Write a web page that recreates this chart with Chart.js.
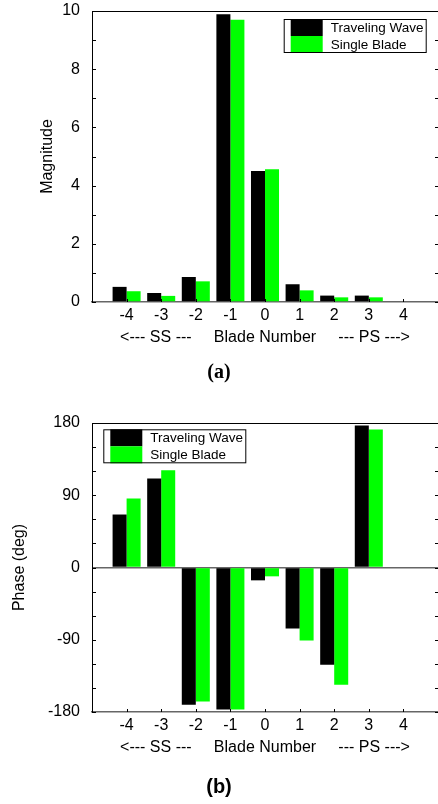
<!DOCTYPE html>
<html>
<head>
<meta charset="utf-8">
<script src="https://cdn.jsdelivr.net/npm/chart.js@4.4.1/dist/chart.umd.min.js"></script>
<style>
  html, body { margin: 0; padding: 0; background: #fff; }
  canvas { display: block; }
</style>
</head>
<body>
<canvas id="magnitude" width="438" height="400"></canvas>
<canvas id="phase" width="438" height="404"></canvas>
<script>
// Blade-by-blade response: traveling-wave vs. single-blade excitation
const bladeNumbers = ['-4', '-3', '-2', '-1', '0', '1', '2', '3', '4'];
const seriesNames = ['Traveling Wave', 'Single Blade'];
const magnitudeTravelingWave = [0.52, 0.31, 0.86, 9.89, 4.50, 0.61, 0.22, 0.22, 0];
const magnitudeSingleBlade   = [0.37, 0.21, 0.71, 9.70, 4.56, 0.40, 0.16, 0.16, 0];
const phaseTravelingWave = [66, 111, -171, -177, -16, -76, -121, 177, 0];
const phaseSingleBlade   = [86, 121, -167, -177, -11, -91, -146, 172, 0];
const magnitudeTickLabels = [0, 2, 4, 6, 8, 10];
const phaseTickLabels = [-180, -90, 0, 90, 180];
const bladeAxisTitle = '<--- SS ---     Blade Number     --- PS --->';

const FONT = '"Liberation Sans", Arial, Helvetica, sans-serif';

// Plot frame (top edge) and small inward tick marks on both vertical sides and the bottom
const framePlugin = {
  id: 'frame',
  afterDraw(chart) {
    const { ctx, chartArea: { left, right, top, bottom }, scales: { x, y } } = chart;
    ctx.save();
    ctx.strokeStyle = '#000';
    ctx.lineWidth = 1;
    ctx.beginPath();
    ctx.moveTo(left, top + 0.5);
    ctx.lineTo(right, top + 0.5);
    ctx.stroke();
    ctx.beginPath();
    y.ticks.forEach(t => {
      const py = Math.round(y.getPixelForValue(t.value)) + 0.5;
      ctx.moveTo(left, py); ctx.lineTo(left + 4, py);
      ctx.moveTo(right, py); ctx.lineTo(right - 3, py);
    });
    chart.data.labels.forEach((lab, i) => {
      if (!lab) return;
      const px = Math.round(x.getPixelForTick(i)) + 0.5;
      ctx.moveTo(px, bottom); ctx.lineTo(px, bottom - 3);
    });
    ctx.stroke();
    ctx.restore();
  }
};

// Boxed legend with tall colour swatches, placed inside the plot area
const boxLegendPlugin = {
  id: 'boxLegend',
  afterDraw(chart, args, o) {
    const { ctx, chartArea } = chart;
    const w = 143, h = 34;
    const x0 = o.side === 'left' ? chartArea.left + o.dx : chartArea.right - o.dx - w;
    const y0 = chartArea.top + o.dy;
    const ds = chart.data.datasets;
    const rowH = h / ds.length;
    ctx.save();
    ctx.fillStyle = '#fff';
    ctx.fillRect(x0, y0, w, h);
    ds.forEach((d, i) => {
      ctx.fillStyle = d.backgroundColor;
      ctx.fillRect(x0 + 7, y0 + i * rowH, 32, rowH);
      ctx.fillStyle = '#000';
      ctx.font = '13.5px ' + FONT;
      ctx.textBaseline = 'middle';
      ctx.textAlign = 'left';
      ctx.fillText(d.label, x0 + 47, y0 + i * rowH + rowH / 2 + 0.5);
    });
    ctx.strokeStyle = '#000';
    ctx.lineWidth = 1;
    ctx.strokeRect(x0 + 0.5, y0 + 0.5, w - 1, h - 1);
    ctx.restore();
  }
};

function makeChart(id, cfg) {
  const labels = ['', ...bladeNumbers, ''];
  const pad = arr => [null, ...arr, null];
  return new Chart(document.getElementById(id), {
    type: 'bar',
    data: {
      labels,
      datasets: [
        { label: seriesNames[0], data: pad(cfg.first), backgroundColor: '#000000',
          categoryPercentage: 0.81, barPercentage: 1.0 },
        { label: seriesNames[1], data: pad(cfg.second), backgroundColor: '#00ff00',
          categoryPercentage: 0.81, barPercentage: 1.0 }
      ]
    },
    options: {
      responsive: false,
      animation: false,
      layout: { padding: { left: 0, right: 0, top: cfg.top, bottom: 0 } },
      plugins: {
        legend: { display: false },
        tooltip: { enabled: false },
        title: {
          display: true, position: 'bottom', text: cfg.caption, color: '#000',
          font: cfg.captionFont, padding: { top: 0, bottom: cfg.captionPad }
        },
        boxLegend: cfg.legend
      },
      scales: {
        x: {
          type: 'category',
          offset: false,
          grid: { display: true, drawOnChartArea: false, drawTicks: true, tickLength: 4,
                  color: 'rgba(0,0,0,0)', tickColor: 'rgba(0,0,0,0)' },
          border: { display: true, color: '#666', width: 1.5 },
          ticks: { color: '#000', font: { family: FONT, size: 16 }, padding: 0,
                   maxRotation: 0, autoSkip: false },
          title: { display: true, text: bladeAxisTitle, color: '#000',
                   font: { family: FONT, size: 16 }, padding: { top: 0, bottom: cfg.xTitlePad } },
          afterFit: s => { s.height = cfg.xHeight; }
        },
        y: {
          min: cfg.min, max: cfg.max,
          grid: {
            drawTicks: true,
            tickLength: 12,
            tickColor: 'rgba(0,0,0,0)',
            lineWidth: 1.5,
            color: c => (cfg.zeroLine && c.tick && c.tick.value === 0) ? '#666' : 'rgba(0,0,0,0)'
          },
          border: { display: true, color: '#000', width: 1 },
          ticks: {
            stepSize: cfg.step, autoSkip: false, color: '#000', padding: 0,
            font: { family: FONT, size: 16 },
            callback: v => cfg.tickLabels.includes(v) ? String(v) : ''
          },
          title: { display: true, text: cfg.yTitle, color: '#000',
                   font: { family: FONT, size: 16 }, padding: { top: cfg.yTitlePad, bottom: 0 } },
          afterFit: s => { s.width = 92; }
        }
      }
    },
    plugins: [framePlugin, boxLegendPlugin]
  });
}

makeChart('magnitude', {
  first: magnitudeTravelingWave, second: magnitudeSingleBlade,
  min: 0, max: 10, step: 1, tickLabels: magnitudeTickLabels, zeroLine: false,
  yTitle: 'Magnitude', yTitlePad: 38,
  top: 11, xHeight: 59, xTitlePad: 13.4,
  caption: '(a)', captionFont: { family: '"Liberation Serif", "Times New Roman", serif', size: 20, weight: 'bold' },
  captionPad: 15,
  legend: { side: 'right', dx: 11.3, dy: 8 }
});

makeChart('phase', {
  first: phaseTravelingWave, second: phaseSingleBlade,
  min: -180, max: 180, step: 30, tickLabels: phaseTickLabels, zeroLine: true,
  yTitle: 'Phase (deg)', yTitlePad: 10,
  top: 23, xHeight: 63, xTitlePad: 17.4,
  caption: '(b)', captionFont: { family: FONT, size: 20, weight: 'bold' },
  captionPad: 5,
  legend: { side: 'left', dx: 11.3, dy: 6.3 }
});
</script>
</body>
</html>
